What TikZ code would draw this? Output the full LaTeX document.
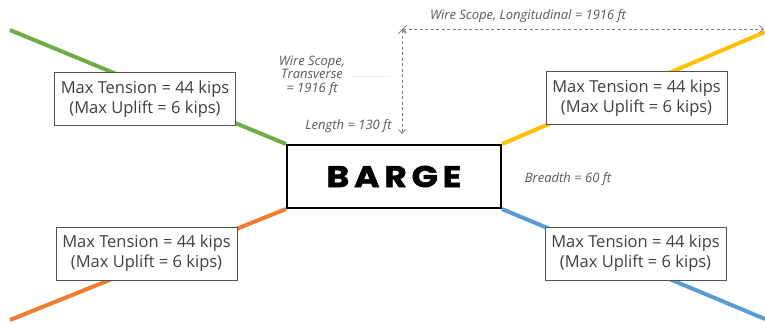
\documentclass[tikz,border=0pt]{standalone}
\usepackage{fontspec}
\setmainfont{Open Sans}
\newfontfamily\bargefont[LetterSpace=16,FakeBold=1.6,FakeStretch=1.15]{Poppins}
\usetikzlibrary{arrows.meta}
\definecolor{cgreen}{HTML}{70AD47}
\definecolor{cyellow}{HTML}{FFC000}
\definecolor{corange}{HTML}{ED7D31}
\definecolor{cblue}{HTML}{5B9BD5}
\definecolor{txt}{HTML}{404040}
\definecolor{dim}{HTML}{595959}
\tikzset{
  mooring/.style={line width=4pt},
  loadbox/.style={draw=txt!90, line width=0.9pt, fill=white, text=txt, align=center,
    font=\fontsize{16.5}{20}\selectfont, minimum width=181pt, minimum height=53pt, inner sep=0pt},
  dimtext/.style={text=dim, font=\fontsize{13}{13.5}\selectfont\itshape, inner sep=0pt},
  dimline/.style={draw=gray, line width=0.8pt, dash pattern=on 3pt off 2.5pt},
  tips/.style={{Straight Barb[length=4pt,width=7pt]}-{Straight Barb[length=4pt,width=7pt]}}
}
\begin{document}
\begin{tikzpicture}[x=1pt,y=-1pt]
\useasboundingbox (0,0) rectangle (765,324);
% barge
\node[draw=black, line width=2pt, minimum width=214pt, minimum height=63pt, inner sep=0pt, fill=white] (barge) at (394,176.5) {};
% mooring lines
\coordinate (gA) at (10,30);
\coordinate (yA) at (765,32);
\coordinate (oA) at (10,320);
\coordinate (bA) at (765,319);
\draw[mooring, cgreen] (gA) -- (barge.north west);
\draw[mooring, cyellow] (yA) -- (barge.north east);
\draw[mooring, corange] (oA) -- (barge.south west);
\draw[mooring, cblue] (bA) -- (barge.south east);
% redraw barge on top
\node[draw=black, line width=2pt, minimum width=214pt, minimum height=63pt, inner sep=0pt, fill=white] at (394,176.5) {};
\node at (barge.center) {\fontsize{30}{30}\selectfont\bargefont\bfseries BARGE};
% load boxes
\node[loadbox] (tl) at (145,99) {Max Tension = 44 kips\\(Max Uplift = 6 kips)};
\node[loadbox] (tr) at (636.5,98) {Max Tension = 44 kips\\(Max Uplift = 6 kips)};
\node[loadbox] (bl) at (146.5,253.5) {Max Tension = 44 kips\\(Max Uplift = 6 kips)};
\node[loadbox] (br) at (635.5,253.5) {Max Tension = 44 kips\\(Max Uplift = 6 kips)};
% dimensions
\coordinate (corner) at (402,29);
\coordinate (vend) at (402,134);
\coordinate (hend) at (764,29);
\draw[dimline, tips] (corner) -- (hend);
\draw[dimline, tips] (corner) -- (vend);
\node[dimtext] (lon) at (528,16) {Wire Scope, Longitudinal = 1916 ft};
\node[dimtext, align=center] (tra) at (312,75.5) {Wire Scope,\\Transverse\\= 1916 ft};
\coordinate (fa) at (352,76);
\coordinate (fb) at (390,76);
\draw[gray!12, line width=0.6pt] (fa) -- (fb);
\node[dimtext] (len) at (348.5,126) {Length = 130 ft};
\node[dimtext] (bre) at (568,179) {Breadth = 60 ft};
\end{tikzpicture}
\end{document}
